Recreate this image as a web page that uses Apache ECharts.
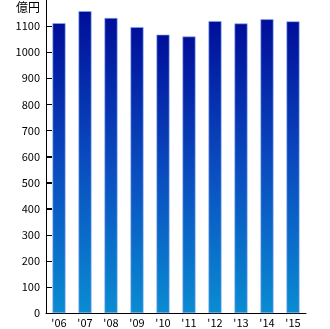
<!DOCTYPE html>
<html>
<head>
<meta charset="utf-8">
<script src="https://cdn.jsdelivr.net/npm/echarts@6/dist/echarts.min.js"></script>
<style>html,body{margin:0;padding:0;background:#fff}#c{width:330px;height:329px}</style>
</head>
<body>
<div id="c"></div>
<script>
// Fiscal years and amounts (unit: 億円)
const years = ["'06", "'07", "'08", "'09", "'10", "'11", "'12", "'13", "'14", "'15"];
const amounts = [1111, 1157, 1131, 1096, 1067, 1060, 1119, 1110, 1126, 1118];
const yTicks = [0, 100, 200, 300, 400, 500, 600, 700, 800, 900, 1000, 1100];
const unitLabel = '億円';

const font = '"Noto Sans CJK JP", sans-serif';
const gridLeft = 46;
const tickLen = 6;
const chart = echarts.init(document.getElementById('c'), null, { renderer: 'canvas' });
chart.setOption({
  animation: false,
  grid: { left: gridLeft, right: 24, top: 0, bottom: 16 },
  graphic: [{
    id: 'unit', type: 'text', left: 16, top: 1,
    style: { text: unitLabel, font: '12px ' + font, fill: '#000' }
  }],
  xAxis: {
    type: 'category',
    data: years,
    axisLine: { lineStyle: { color: '#000', width: 1 } },
    axisTick: { show: false },
    axisLabel: { color: '#000', fontFamily: font, fontSize: 11, margin: 4 }
  },
  yAxis: {
    type: 'value',
    min: 0, max: 1200, interval: 100,
    splitLine: { show: false },
    axisLine: { show: true, lineStyle: { color: '#000', width: 1 } },
    axisTick: { show: true, inside: true, length: tickLen, lineStyle: { color: '#000', width: 1 } },
    axisLabel: {
      color: '#000', fontFamily: font, fontSize: 11, margin: 6, showMaxLabel: false,
      formatter: v => String(v)
    }
  },
  series: [{
    type: 'bar',
    data: amounts,
    barWidth: 13,
    itemStyle: {
      color: new echarts.graphic.LinearGradient(0, 0, 0, 1, [
        { offset: 0, color: '#000e99' },
        { offset: 0.5, color: '#0a4cbf' },
        { offset: 1, color: '#0a8cd2' }
      ]),
      borderColor: 'rgba(140,170,235,0.6)',
      borderWidth: 0.6
    }
  }]
});

// Inward-pointing tick marks on the value axis, placed through the axis scale
const tickMarks = [];
yTicks.forEach((v, i) => {
  const py = chart.convertToPixel({ yAxisIndex: 0 }, v);
  if (typeof py === 'number' && isFinite(py)) {
    const y = Math.round(py) + 0.5;
    tickMarks.push({
      id: 'tick' + i, type: 'line', z: 100, silent: true,
      shape: { x1: gridLeft, y1: y, x2: gridLeft + tickLen, y2: y },
      style: { stroke: '#000', lineWidth: 1 }
    });
  }
});
if (tickMarks.length) chart.setOption({ graphic: tickMarks });
</script>
</body>
</html>
